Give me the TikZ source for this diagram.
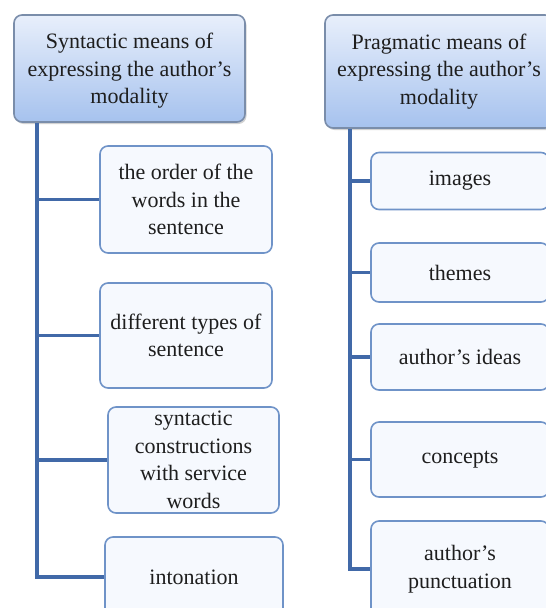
\documentclass[tikz,border=0pt]{standalone}
\usepackage{fontspec}
\setmainfont{Liberation Serif}
\usetikzlibrary{shadows}
\definecolor{trunk}{HTML}{4169A8}
\definecolor{boxline}{HTML}{6F93C8}
\definecolor{boxfill}{HTML}{F6F9FE}
\definecolor{headtop}{HTML}{E8EFFB}
\definecolor{headbot}{HTML}{A6C2EE}
\definecolor{headline}{HTML}{7A8DAA}
\definecolor{txt}{HTML}{1E1E1E}
\tikzset{
  headbox/.style={draw=headline, line width=1.6pt, rounded corners=8pt,
    top color=headtop, bottom color=headbot, text=txt, align=center,
    font=\fontsize{22}{27.5}\selectfont,
    drop shadow={shadow xshift=1.5pt, shadow yshift=-2pt, opacity=0.35}},
  childbox/.style={draw=boxline, line width=1.6pt, rounded corners=8pt,
    fill=boxfill, text=txt, align=center, inner sep=0pt,
    font=\fontsize{22}{27.5}\selectfont},
  lbl/.style={text=txt, align=center, inner sep=0pt,
    font=\fontsize{22}{27.5}\selectfont},
  conn/.style={draw=trunk, line width=3.5pt}
}
\begin{document}
\begin{tikzpicture}[x=1pt,y=-1pt]
\useasboundingbox (0,0) rectangle (546,608);
\clip (0,0) rectangle (546,608);
\fill[white] (0,0) rectangle (546,608);
% headers
\node[headbox, minimum width=231pt, minimum height=107pt] (lh) at (129.5,68.5) {};
\node[lbl] (lht) at ([yshift=-2.5pt]lh.center)
  {Syntactic means of\\expressing the author's\\modality};
\node[headbox, minimum width=228pt, minimum height=113pt] (rh) at (439,71.5)
  {Pragmatic means of\\expressing the author's\\modality};
% trunk anchors
\coordinate (lt) at (37,123);
\coordinate (rt) at (350,129);
% left children
\node[childbox, minimum width=172pt, minimum height=107pt] (c1) at (186,199.5)
  {the order of the\\words in the\\sentence};
\node[childbox, minimum width=172pt, minimum height=105pt] (c2) at (186,335.5)
  {different types of\\sentence};
\node[childbox, minimum width=171pt, minimum height=106pt] (c3) at (193.5,460) {};
\node[lbl] (c3t) at (c3.center)
  {syntactic\\constructions\\with service\\words};
\node[childbox, minimum width=178pt, minimum height=80pt] (c4) at (194,577)
  {intonation};
% right children
\node[childbox, minimum width=178pt, minimum height=57pt] (r1) at (460,181)
  {images};
\node[childbox, minimum width=178pt, minimum height=59pt] (r2) at (460,272.5)
  {themes};
\node[childbox, minimum width=178pt, minimum height=66pt] (r3) at (460,357)
  {author's ideas};
\node[childbox, minimum width=178pt, minimum height=75pt] (r4) at (460,459.5)
  {concepts};
\node[childbox, minimum width=178pt, minimum height=96pt] (r5) at (460,569)
  {author's\\punctuation};
% connectors left
\draw[conn] (lt) -- (lt |- c4.west) -- (c4.west);
\draw[conn] (lt |- c1.west) -- (c1.west);
\draw[conn] (lt |- c2.west) -- (c2.west);
\draw[conn] (lt |- c3.west) -- (c3.west);
% connectors right
\draw[conn] (rt) -- (rt |- r5.west) -- (r5.west);
\draw[conn] (rt |- r1.west) -- (r1.west);
\draw[conn] (rt |- r2.west) -- (r2.west);
\draw[conn] (rt |- r3.west) -- (r3.west);
\draw[conn] (rt |- r4.west) -- (r4.west);
\end{tikzpicture}
\end{document}
